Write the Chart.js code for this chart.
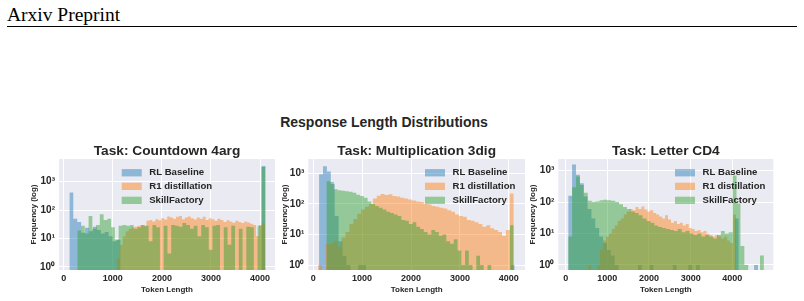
<!DOCTYPE html>
<html>
<head>
<meta charset="utf-8">
<script src="https://cdn.jsdelivr.net/npm/chart.js@4.4.1/dist/chart.umd.min.js"></script>
<style>
  body { margin: 0; background: #fff; width: 804px; height: 301px; overflow: hidden; position: relative; }
  .header { position: absolute; left: 7px; top: 4.7px; font: 19.5px/19.5px "Liberation Serif", "Times New Roman", serif; color: #000; }
  .rule { position: absolute; left: 7px; top: 25.5px; width: 790px; height: 1.5px; background: #000; }
  .suptitle { position: absolute; left: 0; width: 768px; top: 115px; text-align: center;
              font: bold 14px/14px "Liberation Sans", Arial, sans-serif; color: #262626; }
  canvas { position: absolute; top: 140px; }
</style>
</head>
<body>
<div class="header">Arxiv Preprint</div>
<div class="rule"></div>
<div class="suptitle">Response Length Distributions</div>
<script>
const seriesNames = ['RL Baseline', 'R1 distillation', 'SkillFactory'];
const taskTitles = ['Task: Countdown 4arg', 'Task: Multiplication 3dig', 'Task: Letter CD4'];
const xTickValues = [0, 1000, 2000, 3000, 4000];
const xTickLabels = ['0', '1000', '2000', '3000', '4000'];
const yTickValues = [1, 10, 100, 1000];
const yTickLabels = ['10⁰', '10¹', '10²', '10³'];

// histogram bins: [first edge, bin width] and the count in each of the 50 bins
const countdownRlBins = [115, 80];
const countdownRlCounts = [415, 50, 38, 16, 24, 18, 26, 20, 15, 17, 12, 8, 9, 0, 0, 0, 0, 0, 0, 0,
  0, 0, 0, 0, 0, 0, 0, 0, 0, 0, 0, 0, 0, 0, 0, 0, 0, 0, 0, 0, 0, 0, 0, 0, 0, 0, 0, 0, 0, 3600];
const countdownR1Bins = [1080, 60.4];
const countdownR1Counts = [2, 6, 12, 18, 22, 25, 26, 28, 30, 27, 42, 45, 40, 48, 44, 52, 47, 60, 55, 50,
  58, 62, 48, 55, 60, 52, 47, 55, 50, 58, 45, 52, 48, 42, 50, 45, 38, 44, 40, 36, 42, 38, 35, 40, 37, 33, 30, 12, 30, 35];
const countdownSfBins = [277, 76.5];
const countdownSfCounts = [19, 28, 15, 62, 22, 30, 72, 45, 50, 25, 9, 28, 30, 28, 30, 22, 25, 30, 28, 8,
  30, 25, 0, 28, 3, 30, 28, 26, 35, 30, 22, 28, 12, 30, 25, 4, 28, 30, 0, 25, 6, 28, 0, 22, 0, 26, 25, 0, 28, 3300];

const multRlBins = [120, 80];
const multRlCounts = [930, 1700, 1150, 450, 40, 6, 2, 1, 0, 0, 1, 1, 0, 0, 0, 0, 0, 0, 0, 0,
  0, 0, 0, 0, 0, 0, 0, 0, 0, 0, 0, 0, 0, 0, 0, 0, 0, 0, 0, 0, 0, 0, 0, 0, 0, 0, 0, 0, 0, 1];
const multR1Bins = [100, 80];
const multR1Counts = [1, 0, 5, 5, 6, 4, 8, 12, 22, 32, 48, 65, 80, 100, 150, 185, 210, 195, 205, 180,
  175, 160, 150, 140, 130, 120, 115, 100, 95, 85, 80, 75, 70, 62, 55, 45, 40, 38, 30, 28, 25, 22, 18, 20, 16, 14, 12, 9, 14, 220];
const multSfBins = [270, 76.6];
const multSfCounts = [550, 520, 300, 280, 270, 260, 250, 230, 200, 180, 160, 120, 100, 85, 75, 65, 55, 50, 45, 40,
  30, 28, 22, 25, 18, 15, 12, 10, 14, 12, 9, 10, 6, 5, 7, 3, 1, 3, 1, 0, 2, 1, 0, 1, 0, 0, 0, 0, 0, 20];

const letterRlBins = [60, 93];
const letterRlCounts = [160, 1580, 750, 400, 150, 60, 30, 15, 8, 5, 3, 2, 1, 0, 0, 0, 0, 0, 1, 0,
  0, 1, 0, 0, 0, 0, 0, 1, 0, 0, 0, 1, 0, 1, 0, 0, 0, 0, 0, 0, 0, 0, 0, 30, 0, 0, 0, 0, 1, 0];
const letterR1Bins = [540, 71];
const letterR1Counts = [1, 0, 0, 1, 3, 6, 8, 10, 14, 18, 25, 30, 40, 50, 60, 55, 70, 60, 72, 58,
  50, 55, 45, 40, 35, 30, 38, 28, 22, 25, 20, 22, 18, 20, 15, 14, 12, 13, 11, 12, 10, 9, 8, 9, 8, 7, 8, 6, 5, 40];
const letterSfBins = [60, 94];
const letterSfCounts = [8, 300, 650, 350, 200, 110, 100, 105, 115, 120, 115, 110, 100, 85, 70, 60, 50, 45, 38, 30,
  25, 22, 18, 16, 15, 14, 13, 12, 14, 11, 12, 10, 9, 10, 8, 9, 8, 7, 9, 12, 10, 11, 700, 90, 4, 1, 0, 0, 0, 2];

const panelBins = [
  [countdownRlBins, countdownR1Bins, countdownSfBins],
  [multRlBins, multR1Bins, multSfBins],
  [letterRlBins, letterR1Bins, letterSfBins]
];
const panelCounts = [
  [countdownRlCounts, countdownR1Counts, countdownSfCounts],
  [multRlCounts, multR1Counts, multSfCounts],
  [letterRlCounts, letterR1Counts, letterSfCounts]
];

// look
const fills = ['rgba(31,119,180,0.45)', 'rgba(255,127,14,0.45)', 'rgba(44,160,44,0.45)'];
const textColor = '#262626';
const sans = '"Liberation Sans", Arial, sans-serif';
const layouts = [
  { left: 20, width: 260, padRight: 5, axisW: 39, yTitleX: 13.3, xMin: -96, xMax: 4304, yMin: 0.78, yMax: 6300, side: 'left', legX: 62.7 },
  { left: 270, width: 260, padRight: 5, axisW: 38.3, yTitleX: 15, xMin: -100, xMax: 4330, yMin: 0.69, yMax: 2930, side: 'right', legX: 100 },
  { left: 520, width: 270, padRight: 16.7, axisW: 38.3, yTitleX: 13, xMin: -178, xMax: 4985, yMin: 0.69, yMax: 2360, side: 'right', legX: 98.3 }
];

Chart.defaults.font.family = sans;

// stepped outline of a histogram; empty bins sit far below the axis
function histPoints(bins, counts) {
  const start = bins[0], w = bins[1];
  const pts = counts.map((c, i) => ({ x: start + i * w, y: c > 0 ? c : 0.01 }));
  const last = counts[counts.length - 1];
  pts.push({ x: start + counts.length * w, y: last > 0 ? last : 0.01 });
  return pts;
}

const bgPlugin = {
  id: 'plotBg',
  beforeDraw(chart) {
    const a = chart.chartArea, ctx = chart.ctx;
    ctx.save();
    ctx.fillStyle = '#EAEAF2';
    ctx.fillRect(a.left, a.top, a.right - a.left, a.bottom - a.top);
    ctx.restore();
  }
};

const legendPlugin = {
  id: 'insideLegend',
  afterDatasetsDraw(chart, args, opts) {
    const a = chart.chartArea, ctx = chart.ctx;
    const x0 = opts.side === 'left' ? a.left + opts.x : a.right - opts.x;
    const rows = [13.7, 27.3, 41.3];
    ctx.save();
    ctx.font = 'bold 9.6px ' + sans;
    ctx.textBaseline = 'middle';
    chart.data.datasets.forEach((ds, i) => {
      const y = a.top + rows[i];
      ctx.fillStyle = ds.backgroundColor;
      ctx.fillRect(x0, y - 3.6, 20, 7.3);
      ctx.fillStyle = textColor;
      ctx.fillText(ds.label, x0 + 27.5, y);
    });
    ctx.restore();
  }
};

layouts.forEach((L, p) => {
  const canvas = document.createElement('canvas');
  canvas.width = L.width;
  canvas.height = 160;
  canvas.style.left = L.left + 'px';
  canvas.style.width = L.width + 'px';
  canvas.style.height = '160px';
  document.body.appendChild(canvas);

  new Chart(canvas, {
    type: 'line',
    data: {
      datasets: seriesNames.map((name, k) => ({
        label: name,
        data: histPoints(panelBins[p][k], panelCounts[p][k]),
        stepped: true,
        fill: 'start',
        backgroundColor: fills[k],
        borderColor: 'rgba(0,0,0,0)',
        borderWidth: 0,
        pointRadius: 0,
        order: 3 - k
      }))
    },
    options: {
      responsive: false,
      animation: false,
      devicePixelRatio: 1,
      layout: { padding: { left: 0, right: L.padRight, top: 0, bottom: 0 } },
      plugins: {
        legend: { display: false },
        tooltip: { enabled: false },
        title: {
          display: true,
          text: taskTitles[p],
          fullSize: false,
          color: textColor,
          font: { size: 13.7, weight: 'bold', lineHeight: 1 },
          padding: { top: 4.85, bottom: 0.45 }
        },
        insideLegend: { side: L.side, x: L.legX }
      },
      scales: {
        x: {
          type: 'linear',
          min: L.xMin,
          max: L.xMax,
          afterBuildTicks: s => { s.ticks = xTickValues.map(v => ({ value: v })); },
          afterFit: s => { s.height = 30; },
          grid: { color: '#ffffff', lineWidth: 1, drawTicks: false },
          border: { display: false },
          ticks: {
            padding: 3, color: textColor, maxRotation: 0,
            font: { size: 9, weight: 'bold' },
            callback: v => xTickLabels[xTickValues.indexOf(v)]
          },
          title: {
            display: true, text: 'Token Length', color: textColor,
            font: { size: 8, weight: 'bold' }, padding: { top: 0, bottom: 5.2 }
          }
        },
        y: {
          type: 'logarithmic',
          min: L.yMin,
          max: L.yMax,
          afterBuildTicks: s => { s.ticks = yTickValues.map(v => ({ value: v })); },
          afterFit: s => { s.width = L.axisW; },
          grid: { color: '#ffffff', lineWidth: 1, drawTicks: false },
          border: { display: false },
          ticks: {
            padding: 4, color: textColor,
            font: { size: 10, weight: 'bold' },
            callback: v => yTickLabels[yTickValues.indexOf(v)]
          },
          title: {
            display: true, text: 'Frequency (log)', color: textColor,
            font: { size: 8, weight: 'bold' }, padding: { top: L.yTitleX - 4.8, bottom: 0 }
          }
        }
      }
    },
    plugins: [bgPlugin, legendPlugin]
  });
});
</script>
</body>
</html>
